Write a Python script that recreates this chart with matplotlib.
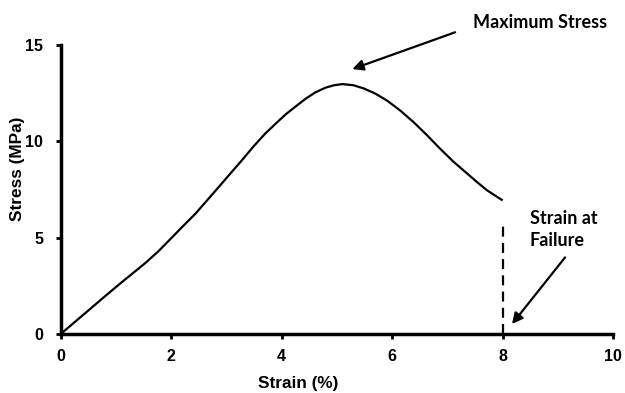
import matplotlib
matplotlib.use("Agg")
import matplotlib.pyplot as plt

# Stress-strain curve
strain = [0.0, 0.5, 0.81, 1.11, 1.53, 1.77, 2.01, 2.22, 2.44, 2.65, 2.86,
          3.07, 3.28, 3.49, 3.70, 3.89, 4.07, 4.25, 4.43, 4.61, 4.80, 4.95,
          5.10, 5.30, 5.49, 5.70, 5.91, 6.15, 6.39, 6.63, 6.87, 7.11, 7.36,
          7.55, 7.72, 8.0]
stress = [0.0, 1.22, 1.98, 2.70, 3.68, 4.30, 5.00, 5.62, 6.25, 6.94, 7.63,
          8.33, 9.02, 9.74, 10.40, 10.92, 11.40, 11.81, 12.21, 12.55, 12.80,
          12.92, 12.98, 12.92, 12.75, 12.48, 12.12, 11.60, 11.0, 10.33, 9.62,
          8.95, 8.33, 7.86, 7.46, 6.94]

failure_strain = 8.0
failure_line_top = 5.6

x_ticks = [0, 2, 4, 6, 8, 10]
y_ticks = [0, 5, 10, 15]

plt.rcParams["font.family"] = ["Liberation Sans", "DejaVu Sans"]

fig = plt.figure(figsize=(6.25, 3.93), dpi=100)
ax = fig.add_axes([0.097, 0.150, 0.884, 0.735])

ax.plot(strain, stress, color="black", lw=1.6, solid_capstyle="butt",
        solid_joinstyle="round")
ax.plot([failure_strain, failure_strain], [0, failure_line_top],
        color="black", lw=1.6, ls=(0, (4.5, 2.8)))

ax.set_xlim(0, 10)
ax.set_ylim(0, 15)
ax.set_xticks(x_ticks)
ax.set_yticks(y_ticks)
ax.tick_params(direction="out", length=3.5, width=2, labelsize=11.5)
ax.tick_params(axis="x", pad=7)
ax.tick_params(axis="y", pad=9)
for lab in ax.get_xticklabels() + ax.get_yticklabels():
    lab.set_fontweight("bold")

for side in ["top", "right"]:
    ax.spines[side].set_visible(False)
for side in ["left", "bottom"]:
    ax.spines[side].set_linewidth(2.5)

ax.set_xlabel("Strain (%)", fontsize=12.4, fontweight="bold", va="center")
ax.xaxis.set_label_coords(0.430, -0.170)
ax.set_ylabel("Stress (MPa)", fontsize=12.4, fontweight="bold", va="center")
ax.yaxis.set_label_coords(-0.078, 0.572)

note_font = dict(fontsize=13, fontweight="bold", family=["Lato", "DejaVu Sans"])
arrow = dict(arrowstyle="-|>", color="black", lw=1.6,
             mutation_scale=16, shrinkA=0, shrinkB=0)
ax.annotate("", xy=(5.28, 13.76), xytext=(7.14, 15.67),
            annotation_clip=False, arrowprops=arrow)
ax.text(7.47, 16.17, "Maximum Stress", ha="left", va="center", clip_on=False,
        **note_font)
ax.annotate("", xy=(8.17, 0.52), xytext=(9.13, 3.98), arrowprops=arrow)
ax.text(8.49, 5.44, "Strain at\nFailure", ha="left", va="center",
        linespacing=1.35, **note_font)

fig.savefig("out.png", dpi=100)
